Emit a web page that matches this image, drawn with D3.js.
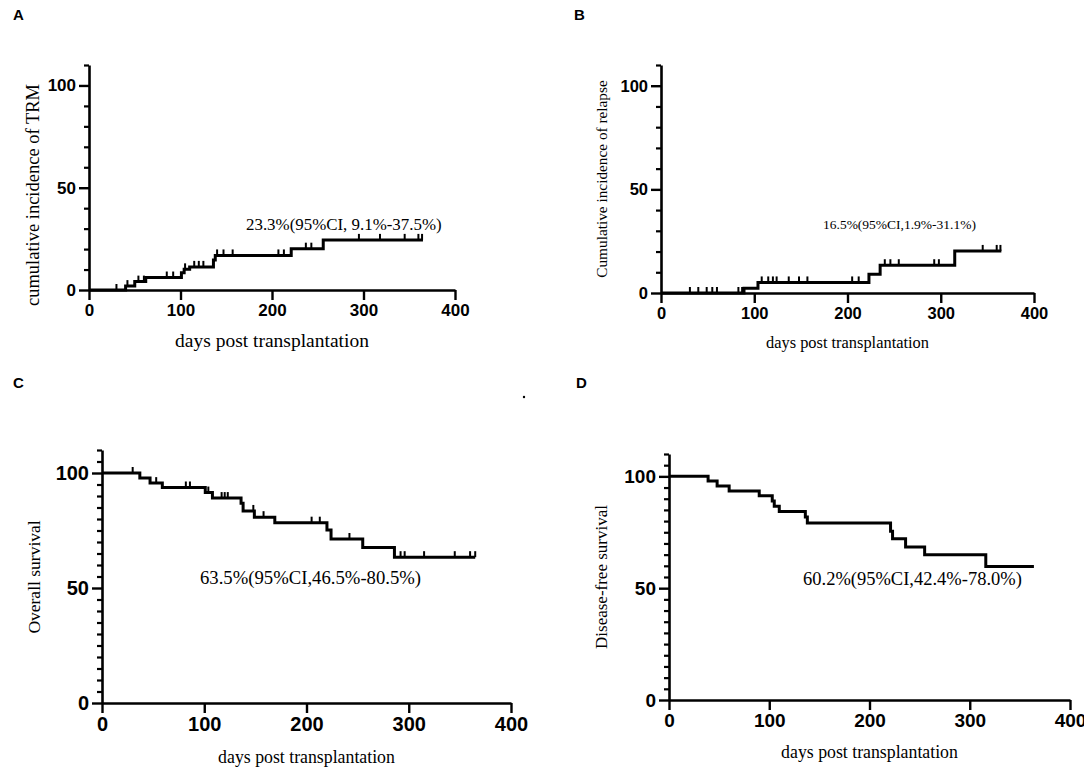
<!DOCTYPE html>
<html>
<head>
<meta charset="utf-8">
<script src="https://cdn.jsdelivr.net/npm/d3@7"></script>
<style>
  body { margin: 0; background: #fff; }
  .tick text { font-family: "Liberation Sans", Arial, sans-serif; font-weight: bold; }
  .serif { font-family: "Liberation Serif", "Times New Roman", serif; }
</style>
</head>
<body>
<script>
// x ticks shared by all four panels
const dayTicks = [0, 100, 200, 300, 400];
const yMajor = [0, 50, 100];

// A - TRM
const trmDays = [0, 40, 50, 62, 101, 104, 110, 136, 138, 221, 256, 365];
const trmVals = [0, 1.9, 4.1, 6.1, 8.4, 10.1, 11.3, 14.7, 16.9, 20.2, 24.5, 24.5];
const trmCensor = [30, 42, 54, 60, 85, 92, 105, 115, 120, 125, 140, 147, 157, 207, 213, 237, 243, 295, 318, 345, 360, 364];

// B - relapse
const relDays = [0, 89, 104, 223, 235, 315, 365];
const relVals = [0, 2.3, 5.1, 9.0, 13.4, 20.3, 20.3];
const relCensor = [31, 40, 49, 55, 60, 83, 87, 108, 115, 120, 124, 137, 148, 157, 205, 212, 240, 246, 255, 293, 298, 345, 360, 364];

// C - overall survival
const osDays = [0, 37, 47, 59, 101, 108, 136, 138, 149, 169, 220, 224, 255, 286, 365];
const osVals = [100, 97.8, 95.6, 93.7, 91.5, 89.1, 86.9, 83.5, 80.8, 78.4, 75.2, 71.3, 67.6, 63.4, 63.4];
const osCensor = [30, 53, 82, 86, 104, 117, 120, 123, 148, 158, 205, 213, 242, 292, 296, 315, 345, 360, 365];

// D - disease-free survival
const dfsDays = [0, 39, 48, 60, 90, 103, 105, 110, 136, 138, 221, 223, 236, 255, 316, 364];
const dfsVals = [100, 97.9, 95.7, 93.4, 91.3, 89.0, 86.6, 84.3, 81.8, 79.1, 75.5, 72.1, 68.4, 64.9, 59.7, 59.7];
const dfsCensor = [];

const panels = [
  { letter: 'A', lx: 13, ly: 20, days: trmDays, vals: trmVals, censor: trmCensor,
    left: 89, right: 455, bottom: 290, top: 65, minorStep: 10, tickFont: 17,
    yTitle: 'cumulative incidence of TRM', yTitleX: 33, yTitleY: 195, yTitleFont: 18.5,
    xTitleY: 340, xTitleFont: 19.5,
    note: '23.3%(95%CI, 9.1%-37.5%)', noteX: 246, noteY: 224, noteFont: 16.9 },
  { letter: 'B', lx: 574, ly: 20, days: relDays, vals: relVals, censor: relCensor,
    left: 661, right: 1034, bottom: 293, top: 65, minorStep: 10, tickFont: 16.5,
    yTitle: 'Cumulative incidence of relapse', yTitleX: 602, yTitleY: 179, yTitleFont: 15.3,
    xTitleY: 342, xTitleFont: 16.4,
    note: '16.5%(95%CI,1.9%-31.1%)', noteX: 823, noteY: 224, noteFont: 13.5 },
  { letter: 'C', lx: 13, ly: 388, days: osDays, vals: osVals, censor: osCensor,
    left: 102, right: 511, bottom: 703, top: 450, minorStep: 5, tickFont: 20,
    yTitle: 'Overall survival', yTitleX: 34, yTitleY: 577, yTitleFont: 17.5,
    xTitleY: 757, xTitleFont: 17.8,
    note: '63.5%(95%CI,46.5%-80.5%)', noteX: 200, noteY: 577, noteFont: 18.7 },
  { letter: 'D', lx: 576, ly: 388, days: dfsDays, vals: dfsVals, censor: dfsCensor,
    left: 669, right: 1070, bottom: 700, top: 454, minorStep: 5, tickFont: 19,
    yTitle: 'Disease-free survival', yTitleX: 601, yTitleY: 577, yTitleFont: 17,
    xTitleY: 752, xTitleFont: 17.8,
    note: '60.2%(95%CI,42.4%-78.0%)', noteX: 803, noteY: 579, noteFont: 18.5 }
];

const w = 1084;
const h = 768;

const svg = d3.select('body')
  .append('svg')
  .attr('width', w)
  .attr('height', h);

// stray dot between the two lower panels
svg.append('circle')
  .attr('cx', 524)
  .attr('cy', 397)
  .attr('r', 1.2)
  .attr('fill', '#000');

panels.forEach(p => drawPanel(p));

function drawPanel(p) {
  const xScale = d3.scaleLinear().domain([0, 400]).range([p.left, p.right]);
  const yScale = d3.scaleLinear().domain([0, 110]).range([p.bottom, p.top]);

  const g = svg.append('g');

  // panel letter
  g.append('text')
    .attr('x', p.lx)
    .attr('y', p.ly)
    .style('font-family', '"Liberation Sans", Arial, sans-serif')
    .style('font-weight', 'bold')
    .style('font-size', '15px')
    .text(p.letter);

  // minor y ticks
  const minor = d3.range(0, 110 + 0.01, p.minorStep).filter(v => yMajor.indexOf(v) < 0);
  g.append('g')
    .attr('transform', `translate(${p.left}, 0)`)
    .call(d3.axisLeft(yScale).tickValues(minor).tickSize(5).tickSizeOuter(0).tickFormat(''))
    .call(a => a.selectAll('line').attr('stroke-width', 2.2))
    .call(a => a.select('.domain').remove());

  // major y ticks + axis line
  const yAxis = g.append('g')
    .attr('transform', `translate(${p.left}, 0)`)
    .call(d3.axisLeft(yScale).tickValues(yMajor).tickSize(10).tickPadding(3).tickSizeOuter(0));
  yAxis.select('.domain').attr('stroke-width', 2.6);
  yAxis.selectAll('line').attr('stroke-width', 2.4);
  yAxis.selectAll('text').style('font-size', p.tickFont + 'px').attr('fill', '#000');

  // x axis
  const xAxis = g.append('g')
    .attr('transform', `translate(0, ${p.bottom})`)
    .call(d3.axisBottom(xScale).tickValues(dayTicks).tickSize(10).tickPadding(4).tickSizeOuter(0));
  xAxis.select('.domain').attr('stroke-width', 2.6);
  xAxis.selectAll('line').attr('stroke-width', 2.4);
  xAxis.selectAll('text').style('font-size', p.tickFont + 'px').attr('fill', '#000');

  // step curve
  const pts = p.days.map((d, i) => [d, p.vals[i]]);
  const line = d3.line()
    .x(d => xScale(d[0]))
    .y(d => yScale(d[1]))
    .curve(d3.curveStepAfter);

  g.append('path')
    .datum(pts)
    .attr('d', line)
    .attr('fill', 'none')
    .attr('stroke', '#000')
    .attr('stroke-width', 3);

  // censor marks sit on the curve level at that day
  function levelAt(day) {
    let v = p.vals[0];
    for (let i = 0; i < p.days.length; i++) {
      if (p.days[i] <= day) v = p.vals[i];
    }
    return v;
  }

  g.selectAll('.censor')
    .data(p.censor)
    .enter()
    .append('line')
    .attr('class', 'censor')
    .attr('x1', d => xScale(d))
    .attr('x2', d => xScale(d))
    .attr('y1', d => yScale(levelAt(d)))
    .attr('y2', d => yScale(levelAt(d)) - 6)
    .attr('stroke', '#000')
    .attr('stroke-width', 2);

  // axis titles
  g.append('text')
    .attr('class', 'serif')
    .attr('transform', `translate(${p.yTitleX}, ${p.yTitleY}) rotate(-90)`)
    .attr('text-anchor', 'middle')
    .attr('dy', '0.35em')
    .style('font-size', p.yTitleFont + 'px')
    .text(p.yTitle);

  g.append('text')
    .attr('class', 'serif')
    .attr('x', (p.left + p.right) / 2)
    .attr('y', p.xTitleY)
    .attr('text-anchor', 'middle')
    .attr('dy', '0.35em')
    .style('font-size', p.xTitleFont + 'px')
    .text('days post transplantation');

  // estimate annotation
  g.append('text')
    .attr('class', 'serif')
    .attr('x', p.noteX)
    .attr('y', p.noteY)
    .attr('dy', '0.35em')
    .style('font-size', p.noteFont + 'px')
    .text(p.note);
}
</script>
</body>
</html>
